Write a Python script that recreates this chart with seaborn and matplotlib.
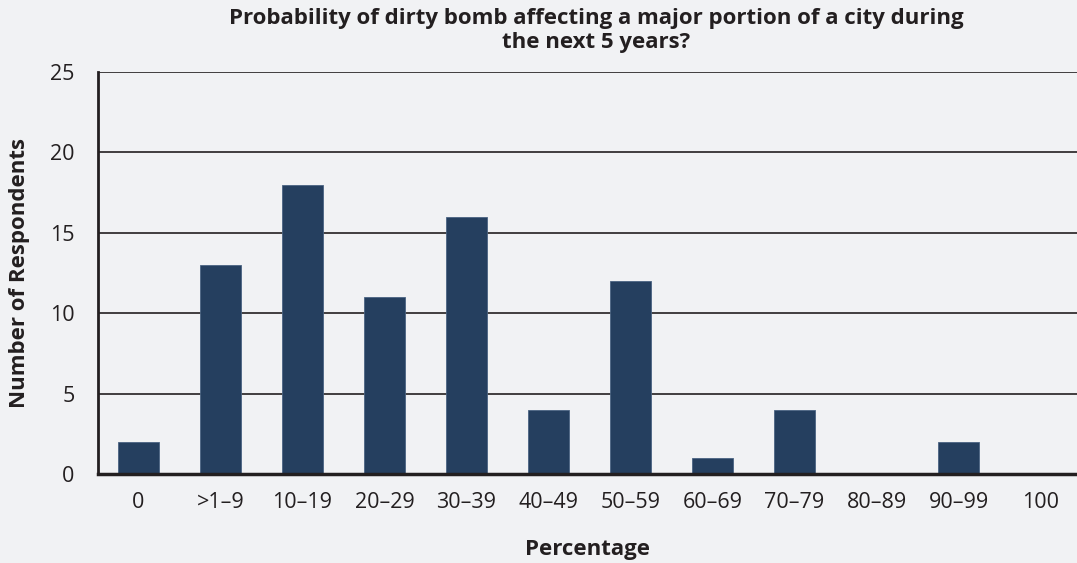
import matplotlib
matplotlib.use("Agg")
import matplotlib.pyplot as plt
import seaborn as sns
import pandas as pd

categories = ["0", ">1\u20139", "10\u201319", "20\u201329", "30\u201339", "40\u201349",
              "50\u201359", "60\u201369", "70\u201379", "80\u201389", "90\u201399", "100"]
respondents = [2, 13, 18, 11, 16, 4, 12, 1, 4, 0, 2, 0]
y_ticks = [0, 5, 10, 15, 20, 25]

title = "Probability of dirty bomb affecting a major portion of a city during\nthe next 5 years?"
x_label = "Percentage"
y_label = "Number of Respondents"

df = pd.DataFrame({"cat": categories, "val": respondents})

sns.set_theme(style="white")
plt.rcParams["font.family"] = ["Open Sans", "DejaVu Sans"]

bg = "#f1f2f4"
ink = "#231f20"
fig = plt.figure(figsize=(10.77, 5.63), dpi=100, facecolor=bg)
ax = fig.add_axes([98 / 1077, 1 - 474 / 563, 1 - 98 / 1077, (474 - 72) / 563])
ax.set_facecolor(bg)

sns.barplot(data=df, x="cat", y="val", order=categories, color="#253f5f",
            saturation=1, width=0.5, edgecolor="#4a6382", linewidth=0.6, ax=ax, zorder=3)

ax.set_xlim(-0.494, 11.445)
ax.set_ylim(0, 25)
ax.set_yticks(y_ticks)
ax.yaxis.grid(True, color=ink, linewidth=1.2, zorder=0)
ax.set_axisbelow(True)
for s in ["top", "right"]:
    ax.spines[s].set_visible(False)
ax.spines["left"].set_color(ink)
ax.spines["left"].set_linewidth(2)
ax.spines["bottom"].set_color(ink)
ax.spines["bottom"].set_linewidth(2.5)
ax.spines["bottom"].set_zorder(5)

ax.tick_params(axis="both", length=0, labelsize=15.5, colors=ink)
ax.tick_params(axis="x", pad=13)
ax.tick_params(axis="y", pad=17)

ax.set_xlabel(x_label, fontsize=16, fontweight="bold", color=ink, labelpad=19)
ax.set_ylabel(y_label, fontsize=16, fontweight="bold", color=ink, labelpad=14)
fig.text(596 / 1077, 1 - 8 / 563, title, ha="center", va="top", fontsize=16,
         fontweight="bold", color=ink, linespacing=1.2)

fig.savefig("out.png", dpi=100, facecolor=bg)
